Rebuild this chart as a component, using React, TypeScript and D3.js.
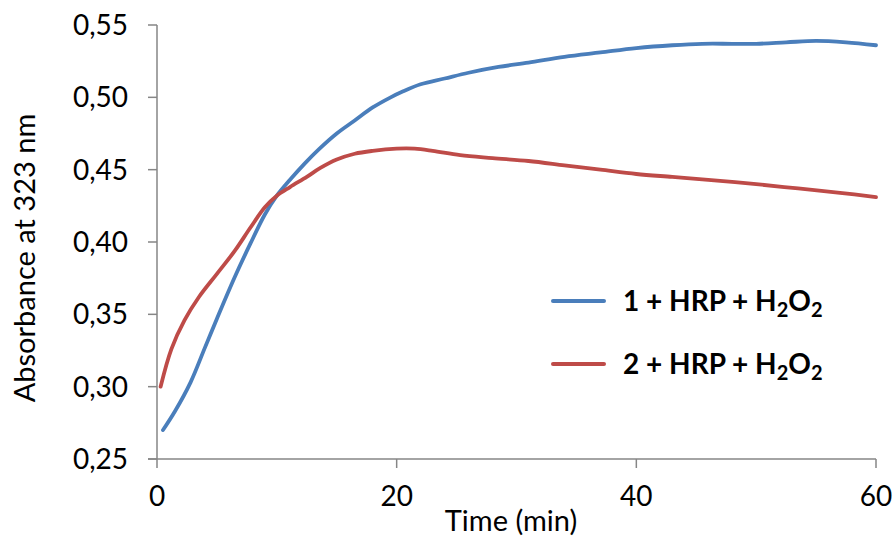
import React from 'react';
import * as d3 from 'd3';

// time (min)
const time1 = [0.5, 1.5, 2.8, 4, 5, 6.5, 7.8, 9, 10, 11.1, 12.3, 13.5, 15, 16.5, 18, 19.5, 20.5, 22, 24, 26, 28.5, 31, 34, 37, 40, 43, 45.5, 48, 50, 52.5, 55, 57.5, 60];
const abs1 = [0.27, 0.283, 0.303, 0.327, 0.347, 0.376, 0.399, 0.419, 0.432, 0.443, 0.454, 0.464, 0.475, 0.484, 0.493, 0.5, 0.504, 0.509, 0.513, 0.517, 0.521, 0.524, 0.528, 0.531, 0.534, 0.536, 0.537, 0.537, 0.537, 0.538, 0.539, 0.538, 0.536];

const time2 = [0.3, 1.2, 2.3, 3.5, 5, 6.5, 7.8, 9, 10, 11.1, 12.5, 13.6, 15, 16.5, 18, 20, 21.5, 23, 25.3, 28, 31, 34, 37, 40, 43, 46, 50, 53.5, 57, 60];
const abs2 = [0.3, 0.326, 0.346, 0.362, 0.378, 0.394, 0.41, 0.424, 0.432, 0.438, 0.445, 0.451, 0.457, 0.461, 0.463, 0.4645, 0.4645, 0.463, 0.46, 0.458, 0.456, 0.453, 0.45, 0.447, 0.445, 0.443, 0.44, 0.437, 0.434, 0.431];

const xTicks = [0, 20, 40, 60];
const yTicks = [0.25, 0.3, 0.35, 0.4, 0.45, 0.5, 0.55];

const seriesNames = ['1 + HRP + H', '2 + HRP + H'];
const seriesColors = ['#4a7ebb', '#be4b48'];

const W = 894;
const H = 537;
const left = 157;
const right = 876;
const top = 25;
const bottom = 459;

export default function App() {
  const x = d3.scaleLinear().domain([0, 60]).range([left, right]);
  const y = d3.scaleLinear().domain([0.25, 0.55]).range([bottom, top]);

  const line = d3
    .line<[number, number]>()
    .x(d => x(d[0]))
    .y(d => y(d[1]))
    .curve(d3.curveCatmullRom.alpha(0.5));

  const series = [
    time1.map((t, i) => [t, abs1[i]] as [number, number]),
    time2.map((t, i) => [t, abs2[i]] as [number, number]),
  ];

  const axisColor = '#868686';
  const font = 'Lato, "Open Sans", sans-serif';

  return (
    <svg width={W} height={H} style={{ position: 'absolute', left: 0, top: 0 }}>
      <rect width={W} height={H} fill="#fff" />
      {/* y axis */}
      <line x1={left} x2={left} y1={top} y2={bottom} stroke={axisColor} strokeWidth={1.5} />
      {yTicks.map(v => (
        <g key={v}>
          <line x1={left - 9} x2={left} y1={y(v)} y2={y(v)} stroke={axisColor} strokeWidth={1.5} />
          <text x={128} y={y(v)} dy="0.36em" textAnchor="end" fontFamily={font} fontSize={28} fill="#000">
            {d3.format('.2f')(v).replace('.', ',')}
          </text>
        </g>
      ))}
      {/* x axis */}
      <line x1={left - 9} x2={right} y1={bottom} y2={bottom} stroke={axisColor} strokeWidth={1.5} />
      {xTicks.map(v => (
        <g key={v}>
          <line x1={x(v)} x2={x(v)} y1={bottom} y2={bottom + 9} stroke={axisColor} strokeWidth={1.5} />
          <text x={x(v)} y={496} dy="0.36em" textAnchor="middle" fontFamily={font} fontSize={28} fill="#000">
            {v}
          </text>
        </g>
      ))}
      <text x={511} y={521} dy="0.36em" textAnchor="middle" fontFamily={font} fontSize={29} fill="#000">
        Time (min)
      </text>
      <text
        transform={`translate(25, 258) rotate(-90)`}
        dy="0.36em"
        textAnchor="middle"
        fontFamily={font}
        fontSize={29}
        fill="#000"
      >
        Absorbance at 323 nm
      </text>
      {/* lines */}
      {series.map((s, i) => (
        <path key={i} d={line(s) || ''} fill="none" stroke={seriesColors[i]} strokeWidth={3.8} strokeLinecap="round" />
      ))}
      {/* legend */}
      {seriesNames.map((n, i) => (
        <g key={n} transform={`translate(0, ${301 + i * 63})`}>
          <line x1={553} x2={604} y1={0} y2={0} stroke={seriesColors[i]} strokeWidth={4} strokeLinecap="round" />
          <text x={623} y={0} dy="0.36em" fontFamily={font} fontWeight="bold" fontSize={28} fill="#000">
            {n}
            <tspan fontSize={20} dy="6">2</tspan>
            <tspan dy="-6">O</tspan>
            <tspan fontSize={20} dy="6">2</tspan>
          </text>
        </g>
      ))}
    </svg>
  );
}
